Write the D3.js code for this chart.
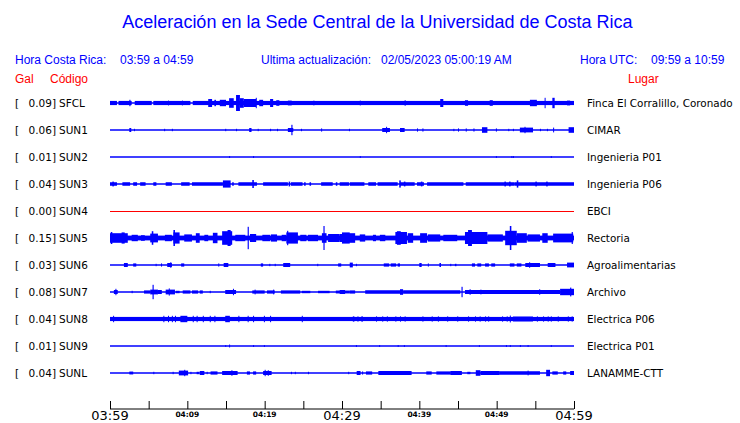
<!DOCTYPE html>
<html><head><meta charset="utf-8">
<script src="https://cdn.jsdelivr.net/npm/d3@7"></script>
<style>body{margin:0;background:#fff}svg{display:block}</style>
</head><body>
<svg id="c" width="740" height="423"></svg>
<script>
// ---------- DATA ----------
const stations = ["SFCL","SUN1","SUN2","SUN3","SUN4","SUN5","SUN6","SUN7","SUN8","SUN9","SUNL"];
const places = ["Finca El Corralillo, Coronado","CIMAR","Ingenieria P01","Ingenieria P06","EBCI","Rectoria","Agroalimentarias","Archivo","Electrica P06","Electrica P01","LANAMME-CTT"];
const peakGal = [0.09,0.06,0.01,0.04,0.00,0.15,0.03,0.08,0.04,0.01,0.04];
const tickLabels = ["03:59","04:09","04:19","04:29","04:39","04:49","04:59"];
const startTime = "2023-02-05T03:59:00";
const endTime = "2023-02-05T04:59:00";
// Envelope segments per station: [minute start, minute end, amplitude in Gal]
const sfcl = [[0,0.9,0.026],[1.1,2.8,0.026],[3.2,5.4,0.026],[5.6,10.4,0.026],[10.7,60,0.026],
 [2.5,2.65,0.04],[7.5,7.6,0.03],[9.3,9.4,0.03],[12.7,13.2,0.05],[13.5,13.7,0.04],[14.2,15.0,0.04],
 [15.4,16.0,0.06],[16.3,16.8,0.1],[16.8,17.3,0.06],[17.3,18.9,0.05],[18.85,18.95,0.065],[19.3,19.8,0.04],
 [20.7,21.1,0.05],[21.5,21.9,0.035],[23.0,23.5,0.03],[26.3,26.4,0.03],[32.3,32.4,0.03],[38.1,38.2,0.035],
 [42.7,43.1,0.05],[45.9,46.3,0.035],[49.1,49.5,0.035],[54.3,55.2,0.04],[56.2,56.3,0.065],[57.2,57.5,0.065],[59.1,59.5,0.03]];
const sun1 = [[2.5,2.75,0.025],[3.1,3.2,0.015],[7.0,7.1,0.015],[8.0,8.1,0.015],[14.9,15.0,0.015],[16.3,16.4,0.015],
 [18.0,18.3,0.025],[19.1,19.2,0.015],[20.7,20.8,0.015],[21.6,21.7,0.015],[23.0,23.7,0.025],[23.45,23.6,0.065],
 [24.7,24.8,0.015],[27.3,27.4,0.02],[30.9,31.0,0.015],[35.2,36.2,0.025],[35.7,35.8,0.04],[37.5,38.1,0.025],
 [39.7,39.8,0.02],[40.4,40.5,0.02],[44.4,44.5,0.015],[45.0,45.1,0.02],[46.0,46.1,0.02],[47.0,47.1,0.02],
 [48.1,48.8,0.035],[49.9,50.0,0.02],[51.5,51.6,0.015],[52.1,52.2,0.015],[53.0,54.7,0.03],[53.6,53.7,0.04],
 [55.6,55.7,0.015],[56.5,56.6,0.015],[57.3,57.4,0.03],[59.3,60,0.035]];
const sun2 = [[15.4,15.5,0.012],[18.5,18.6,0.012],[32.3,32.4,0.012],[49.9,50.0,0.012],[51.9,52.0,0.012],[52.1,52.2,0.012],[57.0,57.1,0.012]];
const sun3 = [[0,0.9,0.022],[1.6,2.6,0.022],[3.0,3.5,0.022],[3.9,4.6,0.022],[5.6,6.0,0.022],[7.2,8.0,0.022],[9.2,10.3,0.022],
 [10.6,14.6,0.022],[15.0,15.3,0.022],[15.8,16.0,0.022],[16.6,19.0,0.022],[19.8,23.0,0.022],[23.4,24.9,0.022],
 [25.1,25.3,0.022],[25.8,26.0,0.022],[27.3,28.8,0.022],[29.2,29.4,0.022],[29.7,30.9,0.022],[31.0,32.9,0.022],
 [33.4,34.4,0.022],[34.6,37.2,0.022],[37.5,39.4,0.022],[39.7,40.6,0.022],[41.0,45.7,0.022],[46.0,52.3,0.022],[52.3,60,0.022],
 [0.3,0.5,0.03],[14.6,15.6,0.045],[18.4,18.6,0.05],[23.1,23.3,0.03],[37.4,37.6,0.045],[38.0,38.2,0.03],
 [40.2,40.4,0.03],[51.0,51.2,0.03],[51.6,51.8,0.03],[52.6,52.8,0.045],[55.0,55.2,0.03],[56.4,56.6,0.03]];
const sun4 = [];
const sun5 = [[0,60,0.03],[0,2.3,0.06],[0.1,0.3,0.075],[1.5,1.9,0.07],[2.8,3.6,0.04],[4.0,4.5,0.035],[5.2,6.2,0.055],[5.4,5.6,0.085],
 [7.1,8.0,0.04],[8.2,9.0,0.07],[8.2,8.4,0.1],[9.6,10.6,0.045],[11.1,11.6,0.06],[12.2,12.7,0.04],[13.3,13.9,0.065],
 [14.5,15.8,0.085],[15.2,15.6,0.1],[16.2,17.5,0.04],[17.8,17.95,0.14],[18.1,18.9,0.05],[19.7,20.7,0.04],[20.8,21.6,0.045],
 [22.2,22.8,0.04],[22.8,24.3,0.07],[22.9,23.05,0.09],[24.6,25.4,0.04],[25.6,26.9,0.04],[27.4,28.0,0.06],[27.6,27.75,0.15],
 [28.2,29.7,0.05],[29.7,30.6,0.05],[30.0,31.0,0.07],[30.8,31.7,0.06],[32.3,33.0,0.045],[34.0,34.4,0.04],[34.9,35.6,0.04],
 [36.9,38.4,0.075],[37.1,37.6,0.085],[38.5,39.2,0.06],[40.1,41.0,0.06],[41.1,42.7,0.045],[43.1,44.9,0.04],
 [45.9,48.8,0.075],[46.3,46.8,0.1],[48.8,50.8,0.045],[51.1,52.6,0.09],[51.7,51.9,0.15],[52.6,53.9,0.06],[54.0,55.6,0.045],
 [55.9,56.6,0.06],[57.3,59.9,0.055],[59.7,59.85,0.075]];
const sun6 = [[1.8,2.3,0.025],[3.0,3.4,0.02],[5.9,6.0,0.015],[6.6,6.7,0.02],[7.4,8.0,0.025],[7.8,7.9,0.035],[9.2,9.6,0.02],
 [14.0,14.1,0.02],[14.7,15.3,0.025],[19.5,19.8,0.02],[20.6,20.7,0.015],[21.3,21.4,0.015],[22.4,23.3,0.025],[26.8,26.9,0.015],
 [29.5,29.9,0.02],[31.0,31.4,0.03],[31.8,31.9,0.015],[35.4,36.1,0.02],[36.3,37.0,0.02],[37.2,37.5,0.02],[40.0,40.3,0.025],
 [41.1,41.2,0.02],[42.6,42.8,0.025],[44.0,44.1,0.015],[44.6,44.8,0.015],[46.8,47.2,0.02],[47.5,48.0,0.02],[48.5,49.0,0.02],
 [49.3,49.8,0.02],[51.7,52.3,0.02],[52.6,53.2,0.02],[53.7,55.6,0.025],[54.2,54.3,0.035],[56.6,57.6,0.025],[59.1,60,0.03]];
const sun7 = [[0.5,1.0,0.025],[0.7,0.8,0.04],[2.8,2.9,0.015],[4.4,5.2,0.02],[5.2,6.2,0.03],[5.5,5.65,0.09],[6.2,6.7,0.025],
 [7.2,8.4,0.03],[7.6,7.7,0.045],[8.5,9.0,0.015],[9.4,10.4,0.02],[10.6,11.4,0.02],[11.6,12.0,0.02],[12.9,13.0,0.015],
 [14.9,16.3,0.025],[15.9,16.0,0.04],[18.4,20.0,0.02],[18.7,18.8,0.03],[20.3,21.3,0.02],[21.1,21.2,0.03],[22.1,24.6,0.02],
 [24.8,25.9,0.015],[26.9,28.4,0.015],[29.2,31.0,0.018],[29.7,30.4,0.025],[31.0,31.7,0.02],[33.0,37.5,0.022],[37.5,37.9,0.035],
 [37.9,45.3,0.022],[45.45,45.6,0.065],[45.9,58.2,0.025],[46.5,46.6,0.035],[47.9,48.0,0.03],[55.5,55.6,0.035],[58.2,60,0.04],[59.5,59.65,0.055]];
const sun8 = [[0,60,0.026],[0.4,0.5,0.04],[6.9,7.0,0.04],[7.5,7.6,0.04],[8.0,8.1,0.04],[8.4,8.5,0.04],[9.1,10.0,0.04],
 [10.7,10.8,0.04],[11.2,11.3,0.04],[12.0,12.1,0.04],[12.9,13.0,0.04],[13.5,13.6,0.04],[14.9,15.5,0.04],[16.6,16.7,0.04],
 [17.8,17.9,0.04],[18.5,18.6,0.04],[19.9,20.0,0.04],[20.7,20.8,0.04],[24.8,24.9,0.04],
 [31.4,31.6,0.033],[32.0,32.1,0.033],[32.5,32.7,0.033],[34.4,34.5,0.033],[35.2,35.3,0.033],[35.8,35.9,0.033],[36.9,37.0,0.033],
 [37.5,37.6,0.033],[38.1,38.2,0.033],[40.4,40.5,0.033],[41.6,41.7,0.033],[42.4,42.5,0.033],[43.6,43.7,0.033],[44.9,45.0,0.033],
 [46.3,46.4,0.033],[47.2,47.3,0.033],[47.8,47.9,0.033],[48.5,48.6,0.033],[48.9,49.0,0.033],[50.7,50.8,0.033],[51.3,51.4,0.033],
 [51.7,51.8,0.043],[52.1,54.7,0.031],[55.2,55.3,0.033],[56.0,56.1,0.033],[56.6,56.7,0.033],[57.0,57.1,0.033],[57.9,58.0,0.033],
 [59.2,59.3,0.033],[59.7,59.8,0.033]];
const sun9 = [[14.9,15.0,0.012],[15.4,15.5,0.018],[18.5,18.6,0.012],[19.9,20.0,0.012],[31.8,31.9,0.012],[34.8,34.9,0.012],
 [37.2,37.3,0.012],[38.0,38.1,0.012],[43.4,43.5,0.012],[47.7,47.8,0.012],[51.2,51.3,0.012],[51.7,51.8,0.012],[53.0,53.1,0.012],
 [54.0,54.1,0.012],[57.0,57.1,0.012]];
const sunl = [[2.5,3.0,0.018],[5.6,5.7,0.015],[8.1,8.2,0.015],[8.9,10.1,0.03],[9.6,9.7,0.04],[10.4,10.5,0.015],[11.2,11.5,0.015],
 [11.6,12.2,0.025],[12.5,12.6,0.015],[13.0,13.9,0.02],[14.5,16.5,0.025],[15.7,15.8,0.035],[17.7,18.1,0.02],[18.5,18.9,0.02],
 [19.8,20.9,0.025],[20.0,20.1,0.04],[20.4,20.5,0.035],[23.4,23.5,0.015],[23.9,24.0,0.015],[25.6,25.7,0.015],[30.8,30.9,0.015],
 [31.9,32.4,0.025],[32.6,32.7,0.02],[33.1,33.9,0.02],[34.7,39.0,0.025],[40.9,41.6,0.02],[42.2,44.0,0.02],[44.0,45.5,0.025],
 [46.2,46.6,0.015],[47.3,47.9,0.035],[47.9,50.4,0.025],[50.4,55.6,0.022],[54.0,54.1,0.03],[56.4,56.9,0.04],[57.2,57.9,0.02],
 [58.6,59.0,0.02],[59.5,60,0.025]];
const envelopes = [sfcl,sun1,sun2,sun3,sun4,sun5,sun6,sun7,sun8,sun9,sunl];

// ---------- CHART ----------
const svg = d3.select("#c");
const t0 = new Date(startTime), t1 = new Date(endTime);
const x = d3.scaleTime().domain([t0,t1]).range([110,574]);
const y = d3.scalePoint().domain(stations).range([103,373]);
const amp = d3.scaleLinear().domain([0,0.15]).range([0,12]);
const minute = m => new Date(t0.getTime() + m*60000);
const blue = "#0000ff", red = "#ff0000";

const hdr = "'Liberation Sans', Arial, sans-serif";
const dj = "'DejaVu Sans', sans-serif";

svg.append("text").attr("x",377.5).attr("y",28).attr("text-anchor","middle")
  .attr("font-family",hdr).attr("font-size",18).attr("fill",blue)
  .text("Aceleración en la Sede Central de la Universidad de Costa Rica");

const h = svg.append("g").attr("font-family",hdr).attr("font-size",12).attr("fill",blue);
h.append("text").attr("x",15).attr("y",64).text("Hora Costa Rica:");
h.append("text").attr("x",120).attr("y",64).text(`${tickLabels[0]} a ${tickLabels[6]}`);
h.append("text").attr("x",261).attr("y",64).text("Ultima actualización:");
h.append("text").attr("x",381).attr("y",64).text("02/05/2023 05:00:19 AM");
h.append("text").attr("x",580).attr("y",64).text("Hora UTC:");
h.append("text").attr("x",651).attr("y",64).text("09:59 a 10:59");
const r = svg.append("g").attr("font-family",hdr).attr("font-size",12).attr("fill",red);
r.append("text").attr("x",15).attr("y",83).text("Gal");
r.append("text").attr("x",50).attr("y",83).text("Código");
r.append("text").attr("x",628).attr("y",83).text("Lugar");

// rows
const rows = svg.selectAll("g.row").data(stations).join("g").attr("class","row")
  .attr("transform", d => `translate(0,${y(d)})`);
rows.each(function(d,i){
  const g = d3.select(this);
  const flat = peakGal[i] === 0;
  const col = flat ? red : blue;
  g.append("text").attr("x",15).attr("y",4).attr("font-family",dj).attr("font-size",10.5).attr("fill","#000").text("[");
  g.append("text").attr("x",56).attr("y",4).attr("text-anchor","end").attr("font-family",dj).attr("font-size",10.5).attr("fill","#000").text(peakGal[i].toFixed(2)+"]");
  g.append("text").attr("x",59).attr("y",4).attr("font-family",dj).attr("font-size",10.5).attr("fill","#000").text(d);
  g.append("text").attr("x",587).attr("y",4).attr("font-family",dj).attr("font-size",10.4).attr("fill","#000").text(places[i]);
  g.append("line").attr("x1",x(t0)).attr("x2",x(t1))
    .attr("y1", flat ? 0.5 : 0).attr("y2", flat ? 0.5 : 0).attr("stroke",col)
    .attr("stroke-width", flat ? 1 : 1.5);
  g.selectAll("rect").data(envelopes[i]).join("rect")
    .attr("x", s => x(minute(s[0])))
    .attr("width", s => Math.max(1, x(minute(s[1])) - x(minute(s[0]))))
    .attr("y", s => -amp(s[2]))
    .attr("height", s => 2*amp(s[2]))
    .attr("fill", col);
});

// time axis
const ticks = d3.range(0,61,5).map(minute);
const ax = svg.append("g");
ax.append("line").attr("x1",x(t0)).attr("x2",x(t1)).attr("y1",409).attr("y2",409).attr("stroke","#000");
ax.selectAll("line.tk").data(ticks).join("line").attr("class","tk")
  .attr("x1",d=>x(d)+0.5).attr("x2",d=>x(d)+0.5).attr("y1",401).attr("y2",409).attr("stroke","#000");
tickLabels.forEach((lab,i) => {
  const d = minute(i*10);
  const major = i % 3 === 0;
  ax.append("text").attr("x",x(d)).attr("y", major ? 420 : 417).attr("text-anchor","middle")
    .attr("font-family",dj).attr("font-size", major ? 13 : 7.5).attr("font-weight", major ? "normal" : "bold")
    .attr("fill","#000").text(lab);
});
</script>
</body></html>
